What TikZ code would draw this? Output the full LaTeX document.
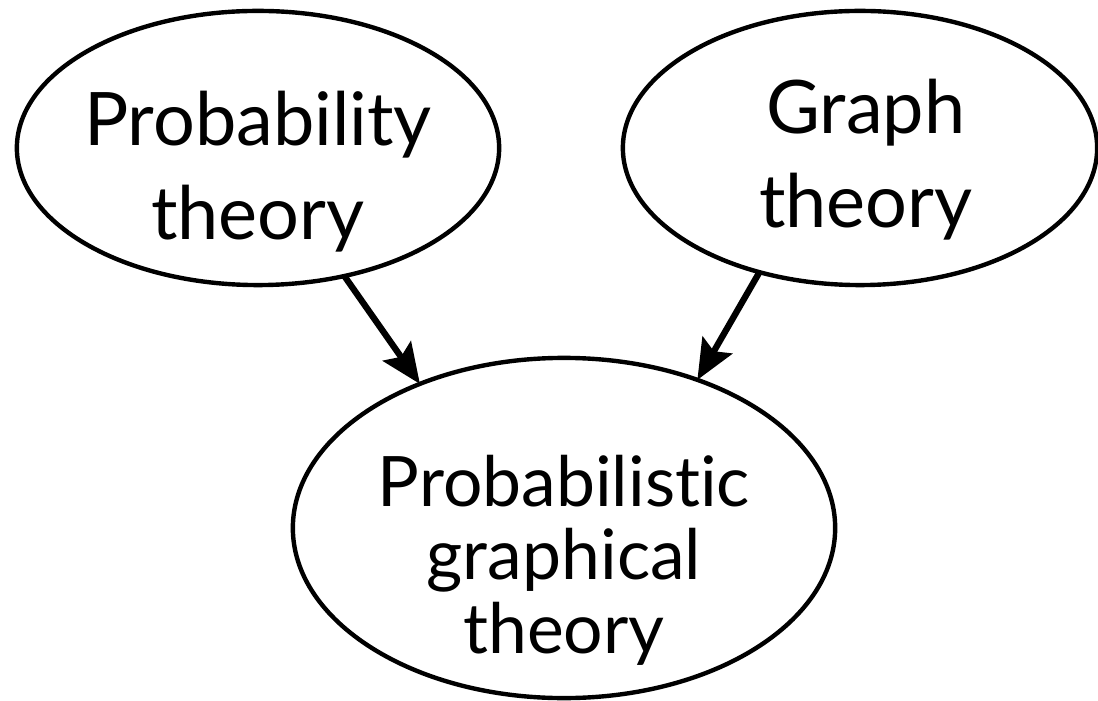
\documentclass[tikz,border=0pt]{standalone}
\usepackage{fontspec}
\setmainfont{Lato}[Ligatures={NoCommon}]
\usetikzlibrary{arrows.meta,shapes.geometric}
\begin{document}
\begin{tikzpicture}[x=0.01cm,y=0.01cm,
  ell/.style={draw,ellipse,line width=1.25pt,inner sep=0pt,outer sep=0pt},
  lbl/.style={align=center,inner sep=0pt,font=\fontsize{21}{26.7}\selectfont},
  lblb/.style={align=center,inner sep=0pt,font=\fontsize{19.8}{20.9}\selectfont},
  arr/.style={line width=1.8pt,-{Stealth[length=0.4cm,width=0.34cm,inset=0.07cm]}}]
\useasboundingbox (0,0) rectangle (1098,700);
\node[ell,minimum width=4.82cm,minimum height=2.74cm] (pt) at (258,552) {};
\node[ell,minimum width=4.74cm,minimum height=2.74cm] (gt) at (860,552) {};
\node[ell,minimum width=5.42cm,minimum height=3.40cm] (pgm) at (564,172) {};
\node[lbl] (ptl) at (258,528) {Probability\\theory};
\node[lbl] (gtl) at (866,540) {Graph\\theory};
\node[lblb] (pgml) at (564,140) {Probabilistic\\graphical\\theory};
\draw[arr] (pt.-56) -- (pgm.135.6);
\draw[arr] (gt.231.2) -- (pgm.48.6);
\end{tikzpicture}
\end{document}
